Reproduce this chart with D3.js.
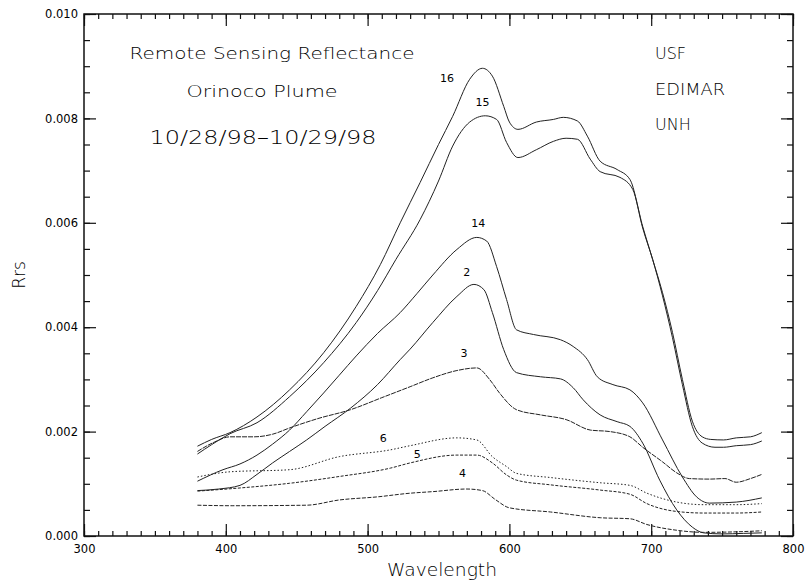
<!DOCTYPE html>
<html>
<head>
<meta charset="utf-8">
<script src="https://cdn.jsdelivr.net/npm/d3@7/dist/d3.min.js"></script>
<style>
body{margin:0;background:#fff}
text{font-family:"DejaVu Sans",sans-serif;font-weight:200;fill:#000}
</style>
</head>
<body>
<svg id="chart" width="807" height="581"></svg>
<script>
// spectra, [wavelength nm, Rrs]
var s16 = [[380,0.00172],[390,0.00185],[403,0.00198],[422,0.00228],[445,0.0028],[469,0.00351],[492,0.0044],[509,0.0052],[523,0.006],[537,0.00677],[550,0.0075],[560,0.00804],[572,0.00875],[581,0.00896],[588,0.00881],[596,0.00823],[600,0.00793],[606,0.00779],[619,0.00793],[631,0.00798],[638,0.00802],[648,0.00795],[655,0.00766],[664,0.00718],[676,0.00702],[685,0.00683],[694,0.00593],[701,0.0053],[708,0.00466],[715,0.0039],[722,0.003],[729,0.0022],[736,0.0019],[742,0.00185],[751,0.00184],[760,0.00188],[770,0.0019],[778,0.00198]];
var s15 = [[380,0.00157],[390,0.00175],[403,0.00196],[422,0.00217],[445,0.00267],[469,0.00332],[492,0.00409],[507,0.0047],[520,0.0053],[537,0.00606],[550,0.0068],[560,0.00747],[572,0.00793],[583,0.00805],[591,0.00798],[598,0.00754],[606,0.00725],[619,0.0074],[631,0.00756],[640,0.00762],[648,0.0076],[657,0.00722],[664,0.00698],[678,0.00687],[687,0.00664],[694,0.0059],[701,0.0053],[708,0.0046],[715,0.0038],[722,0.0029],[729,0.0021],[736,0.00178],[745,0.0017],[751,0.0017],[760,0.00173],[770,0.00175],[778,0.00182]];
var s14 = [[380,0.00105],[398,0.00127],[410,0.00138],[422,0.00155],[433,0.00176],[445,0.00203],[457,0.00238],[469,0.00274],[480,0.00308],[492,0.00345],[507,0.00388],[523,0.00428],[535,0.00465],[546,0.00500],[563,0.00549],[577,0.00572],[584,0.00565],[591,0.00516],[598,0.00453],[605,0.00395],[617,0.00386],[636,0.00376],[645,0.00363],[655,0.00338],[662,0.00305],[673,0.0029],[685,0.0028],[694,0.00255],[708,0.00184],[722,0.00113],[732,0.00075],[741,0.00063],[760,0.00065],[778,0.00073]];
var s2 = [[380,0.00087],[395,0.0009],[410,0.00097],[422,0.00118],[433,0.0014],[445,0.00162],[457,0.00184],[470,0.0021],[488,0.00245],[507,0.0029],[523,0.00338],[530,0.00358],[546,0.00409],[563,0.00459],[575,0.00482],[582,0.00472],[588,0.00428],[596,0.00357],[605,0.00313],[622,0.00305],[636,0.00301],[645,0.00284],[652,0.00261],[664,0.00232],[676,0.00219],[685,0.0021],[694,0.00178],[706,0.00107],[718,0.0005],[729,0.00017],[737,0.00006],[750,0.00004],[765,0.00005],[778,0.00006]];
var s3 = [[380,0.00162],[392,0.0018],[403,0.0019],[420,0.0019],[433,0.00195],[445,0.00207],[465,0.00225],[488,0.00242],[510,0.00265],[530,0.00286],[546,0.00303],[563,0.00317],[577,0.00322],[586,0.003],[593,0.00274],[605,0.00242],[622,0.00232],[640,0.00223],[657,0.00203],[671,0.002],[685,0.0019],[694,0.0017],[708,0.00142],[718,0.00121],[727,0.0011],[741,0.00109],[752,0.0011],[760,0.00103],[770,0.0011],[778,0.00118]];
var s6 = [[380,0.00113],[403,0.00123],[445,0.00127],[480,0.00152],[516,0.00165],[530,0.00173],[563,0.00188],[577,0.00184],[588,0.00152],[598,0.00133],[605,0.0012],[629,0.00112],[664,0.00102],[685,0.00097],[697,0.00082],[718,0.00065],[737,0.0006],[760,0.0006],[778,0.00062]];
var s5 = [[380,0.00086],[410,0.00092],[445,0.00101],[480,0.00114],[516,0.0013],[530,0.0014],[563,0.00155],[577,0.00155],[588,0.0014],[598,0.00117],[605,0.00107],[629,0.00098],[664,0.00088],[685,0.0008],[697,0.00062],[718,0.00047],[737,0.00044],[760,0.00044],[778,0.00046]];
var s4 = [[380,0.00059],[405,0.00058],[457,0.00059],[480,0.00069],[507,0.00075],[530,0.00082],[546,0.00085],[570,0.0009],[581,0.00087],[590,0.0007],[600,0.00054],[629,0.00046],[664,0.00035],[685,0.00033],[697,0.00022],[718,0.00011],[737,0.00007],[760,0.00008],[778,0.0001]];

var names = ["16","15","14","2","3","6","5","4"];
// where each curve's number sits, [wavelength, Rrs]
var labelAt = [[556,0.00877],[581,0.00831],[578,0.00599],[570,0.00505],[568,0.00351],[511,0.00188],[535,0.00157],[567,0.00121]];
var dashes = [null,null,null,null,"5,1","1.5,2","3,1.5","4,1.5"];

var xTicks = [300,400,500,600,700,800];
var yTicks = [0,0.002,0.004,0.006,0.008,0.010];

var svg = d3.select("#chart");
var x = d3.scaleLinear().domain([300,800]).range([84,793]);
var y = d3.scaleLinear().domain([0,0.010]).range([536,14]);

// axes, ticks pointing inside the box
svg.append("g").attr("transform","translate(0,"+y(0)+")")
  .call(d3.axisBottom(x).tickValues(xTicks).tickSize(-12).tickPadding(9).tickFormat(d3.format("d")));
svg.append("g").attr("transform","translate(0,"+y(0)+")")
  .call(d3.axisBottom(x).tickValues(d3.range(300,801,10)).tickSize(-5).tickFormat(""));
svg.append("g").attr("transform","translate(0,"+y(0.010)+")")
  .call(d3.axisTop(x).tickValues(xTicks).tickSize(-12).tickFormat(""));
svg.append("g").attr("transform","translate(0,"+y(0.010)+")")
  .call(d3.axisTop(x).tickValues(d3.range(300,801,10)).tickSize(-5).tickFormat(""));
svg.append("g").attr("transform","translate("+x(300)+",0)")
  .call(d3.axisLeft(y).tickValues(yTicks).tickSize(-12).tickPadding(6).tickFormat(d3.format(".3f")));
svg.append("g").attr("transform","translate("+x(300)+",0)")
  .call(d3.axisLeft(y).tickValues(d3.range(0,0.0101,0.0005)).tickSize(-6).tickFormat(""));
svg.append("g").attr("transform","translate("+x(800)+",0)")
  .call(d3.axisRight(y).tickValues(yTicks).tickSize(-12).tickFormat(""));
svg.append("g").attr("transform","translate("+x(800)+",0)")
  .call(d3.axisRight(y).tickValues(d3.range(0,0.0101,0.0005)).tickSize(-6).tickFormat(""));

svg.selectAll(".domain").remove();
svg.selectAll(".tick line").attr("stroke","#111").attr("stroke-width",1.2);
svg.selectAll(".tick text").style("font-size","11.5px").style("font-family","'DejaVu Sans',sans-serif").style("font-weight","normal").attr("fill","#222");

svg.append("rect")
  .attr("x",x(300)).attr("y",y(0.010))
  .attr("width",x(800)-x(300)).attr("height",y(0)-y(0.010))
  .attr("fill","none").attr("stroke","#111").attr("stroke-width",1.5);

var line = d3.line().x(function(d){return x(d[0]);}).y(function(d){return y(d[1]);}).curve(d3.curveMonotoneX);
var series = [s16,s15,s14,s2,s3,s6,s5,s4];

svg.selectAll("path.spec").data(series).enter().append("path")
  .attr("class","spec")
  .attr("d",line)
  .attr("fill","none")
  .attr("stroke","#222")
  .attr("stroke-width",1)
  .attr("stroke-dasharray",function(d,i){return dashes[i];});

svg.selectAll("text.num").data(names).enter().append("text")
  .attr("class","num")
  .attr("x",function(d,i){return x(labelAt[i][0]);})
  .attr("y",function(d,i){return y(labelAt[i][1]);})
  .attr("dy","0.35em")
  .attr("text-anchor","middle")
  .style("font-size","11px")
  .style("font-weight","normal")
  .text(function(d){return d;});

// titles
svg.append("text").attr("x",272).attr("y",59).attr("text-anchor","middle")
  .attr("textLength",285).attr("lengthAdjust","spacingAndGlyphs")
  .style("font-size","16px").text("Remote Sensing Reflectance");
svg.append("text").attr("x",262).attr("y",97).attr("text-anchor","middle")
  .attr("textLength",151).attr("lengthAdjust","spacingAndGlyphs")
  .style("font-size","16px").text("Orinoco Plume");
svg.append("text").attr("x",263).attr("y",144).attr("text-anchor","middle")
  .attr("textLength",227).attr("lengthAdjust","spacingAndGlyphs")
  .style("font-size","19px").text("10/28/98\u201310/29/98");

svg.append("text").attr("x",655).attr("y",59).style("font-size","16px").text("USF");
svg.append("text").attr("x",655).attr("y",95).attr("textLength",70).attr("lengthAdjust","spacingAndGlyphs")
  .style("font-size","16px").text("EDIMAR");
svg.append("text").attr("x",655).attr("y",130).style("font-size","16px").text("UNH");

svg.append("text").attr("transform","translate(25,"+y(0.005)+") rotate(-90)")
  .attr("text-anchor","middle").style("font-size","17px").text("Rrs");
svg.append("text").attr("x",442).attr("y",576).attr("text-anchor","middle")
  .attr("textLength",110).attr("lengthAdjust","spacingAndGlyphs")
  .style("font-size","18px").text("Wavelength");
</script>
</body>
</html>
